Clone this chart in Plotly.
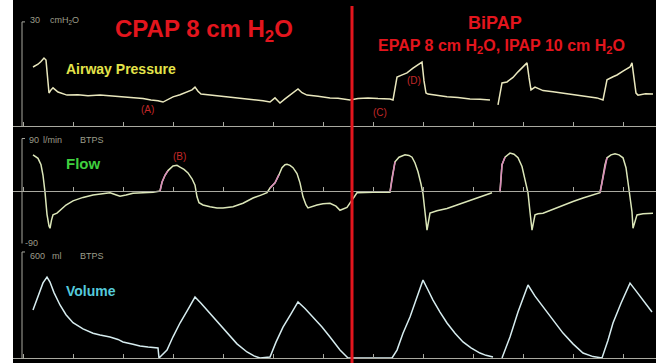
import plotly.graph_objects as go

# ---------------- data (time in s, physical units) ----------------
P_T = [0.20, 0.30, 0.36, 0.42, 0.46, 0.49, 0.52, 0.56, 0.60, 0.70,
       0.88, 1.10, 1.30, 1.54, 1.80, 2.00, 2.20, 2.40, 2.56, 2.70,
       2.80, 2.90, 3.00, 3.14, 3.28, 3.38, 3.44, 3.50, 3.56, 3.70,
       3.90, 4.20, 4.40, 4.64, 4.80, 4.94, 5.00, 5.04, 5.10, 5.14,
       5.24, 5.34, 5.44, 5.50, 5.58, 5.68, 5.90, 6.14, 6.30, 6.54,
       6.70, 6.90, 7.10, 7.34, 7.40, 7.44, 7.48, 7.56, 7.68, 7.80,
       7.94, 7.98, 8.02, 8.06, 8.10, 8.20, 8.48, 8.70, 8.94, 9.14,
       9.34, None, 9.50, 9.54, 9.58, 9.68, 9.80, 9.90, 10.08, 10.12,
       10.16, 10.24, 10.40, 10.60, 10.80, 11.00, 11.20, 11.48, 11.60, 11.64,
       11.68, 11.80, 11.88, 12.00, 12.14, 12.18, 12.22, 12.26, 12.30, 12.45,
       12.60]
P_V = [17.0, 17.8, 18.6, 19.6, 19.0, 14.5, 9.5, 10.4, 11.0, 9.8,
       8.9, 9.0, 8.7, 8.9, 8.6, 8.4, 8.1, 7.9, 7.5, 7.3,
       6.9, 7.6, 8.4, 9.0, 9.8, 10.4, 11.2, 10.0, 9.2, 9.0,
       8.6, 8.1, 8.0, 7.5, 7.3, 6.9, 7.6, 8.1, 7.2, 6.6,
       7.8, 8.9, 10.0, 10.7, 9.6, 8.9, 8.6, 8.1, 8.0, 7.5,
       7.9, 8.1, 7.9, 7.8, 7.5, 11.0, 14.1, 14.6, 15.3, 16.7,
       18.2, 18.4, 13.0, 9.5, 9.2, 9.0, 8.4, 8.2, 7.8, 7.7,
       7.5, None, 6.1, 9.0, 12.4, 12.7, 14.0, 15.6, 18.2, 14.0,
       10.4, 11.2, 10.2, 9.9, 9.5, 9.2, 8.8, 8.1, 7.5, 10.5,
       13.3, 14.2, 14.7, 15.8, 17.0, 18.2, 13.0, 9.5, 8.9, 9.3,
       9.2]

F_T = [0.20, 0.30, 0.36, 0.40, 0.44, 0.48, 0.52, 0.54, 0.57, 0.60,
       0.68, 0.74, 0.86, 1.00, 1.20, 1.40, 1.60, 1.74, 1.84, 1.94,
       2.06, 2.20, 2.40, 2.60, 2.74, 2.78, 2.84, 2.90, 3.00, 3.08,
       3.14, 3.22, 3.30, 3.38, 3.44, 3.48, 3.52, 3.60, 3.74, 3.88,
       4.00, 4.20, 4.40, 4.60, 4.76, 4.88, 4.94, 5.04, 5.12, 5.18,
       5.24, 5.28, 5.34, 5.40, 5.48, 5.54, 5.60, 5.66, 5.70, 5.80,
       5.88, 6.00, 6.14, 6.26, 6.34, 6.48, 6.58, 6.68, 7.00, 7.34,
       7.38, 7.44, 7.52, 7.64, 7.72, 7.78, 7.84, 7.90, 7.96, 8.00,
       8.04, 8.08, 8.14, 8.20, 8.28, 8.48, 8.68, 8.88, 9.08, 9.24,
       9.38, None, 9.54, 9.58, 9.64, 9.74, 9.82, 9.90, 9.98, 10.04,
       10.10, 10.14, 10.18, 10.24, 10.30, 10.40, 10.60, 10.80, 11.00, 11.20,
       11.40, 11.54, 11.58, 11.64, 11.68, 11.76, 11.84, 11.92, 12.00, 12.06,
       12.10, 12.14, 12.18, 12.20, 12.28, 12.40, 12.60]
F_V = [62, 56, 45, 27, -2, -40, -60, -64, -50, -41,
       -38, -33, -24, -17, -11, -7, -5, -3, -6, -9,
       -7, -4, -3, -2, 0, 15, 27, 35, 43, 44,
       41, 37, 31, 21, 10, -10, -20, -24, -27, -29,
       -29, -27, -21, -12, -7, -3, 5, 14, 28, 40,
       45, 46, 44, 40, 30, 14, -10, -24, -29, -26,
       -24, -22, -21, -26, -33, -28, -15, -3, -2, -2,
       22, 50, 58, 62, 61, 58, 48, 33, 12, -5,
       -36, -67, -38, -36, -34, -30, -24, -18, -12, -7,
       -3, None, -2, 45, 58, 65, 63, 57, 42, 22,
       -3, -36, -67, -41, -39, -38, -31, -24, -18, -12,
       -6, -3, 15, 45, 57, 62, 64, 62, 57, 40,
       15, -10, -36, -64, -41, -39, -38]
# inspiratory onset segments drawn in pink
PINK_WINDOWS = [(2.74, 2.90), (4.94, 5.12), (7.34, 7.44), (9.54, 9.64), (11.54, 11.68)]

V_T = [0.20, 0.30, 0.40, 0.48, 0.54, 0.62, 0.74, 0.86, 1.00, 1.20,
       1.40, 1.54, 1.74, 1.90, 2.00, 2.20, 2.34, 2.50, 2.70, 2.72,
       2.80, 2.88, 3.00, 3.14, 3.30, 3.44, 3.56, 3.68, 3.88, 4.08,
       4.28, 4.48, 4.62, 4.74, 4.94, 5.06, 5.20, 5.36, 5.50, 5.64,
       5.80, 5.98, 6.14, 6.26, 6.34, 6.50, 6.68, 7.00, 7.38, 7.48,
       7.60, 7.74, 7.88, 8.00, 8.10, 8.20, 8.34, 8.48, 8.64, 8.80,
       8.96, 9.14, 9.26, 9.40, None, 9.58, 9.74, 9.90, 10.00, 10.10,
       10.24, 10.40, 10.60, 10.80, 11.00, 11.20, 11.40, 11.58, 11.70, 11.80,
       11.96, 12.14, 12.26, 12.40, 12.58]
V_V = [272, 350, 425, 458, 430, 370, 300, 245, 200, 165,
       140, 130, 119, 105, 91, 78, 68, 62, 57, 0,
       20, 45, 120, 198, 275, 345, 310, 272, 205, 141,
       80, 34, 12, 0, 6, 90, 175, 250, 317, 280,
       232, 175, 119, 75, 45, 0, 0, 0, 0, 45,
       140, 232, 340, 441, 385, 328, 260, 198, 140, 91,
       57, 28, 15, 6, None, 0, 119, 260, 340, 413,
       350, 289, 212, 141, 80, 28, 8, 0, 100, 198,
       310, 424, 380, 328, 260]

SWITCH_TIME = 6.58  # CPAP -> BiPAP

# ---------------- layout helpers (pixel geometry) ----------------
W, H = 656, 363
L = 13
T0_PX, PX_PER_S = 23, 50


def fx(px):
    return (px - L) / (W - L)


def fy(py):
    return 1 - py / H


def t_of(px):
    return (px - T0_PX) / PX_PER_S


# panel: top px, bottom px, zero px, px per unit
PANELS = {
    "p": (0, 130, 126, 3.47),
    "f": (130, 247, 191, 0.583),
    "v": (247, 363, 358, 0.1767),
}

fig = go.Figure()

TRACE_W = 1.5
fig.add_trace(go.Scatter(x=P_T, y=P_V, mode="lines", xaxis="x", yaxis="y",
                         line=dict(color="#e9e7bd", width=TRACE_W), hoverinfo="skip"))
fig.add_trace(go.Scatter(x=F_T, y=F_V, mode="lines", xaxis="x2", yaxis="y2",
                         line=dict(color="#dbe6b8", width=TRACE_W), hoverinfo="skip"))
for a, b in PINK_WINDOWS:
    xs, ys = [], []
    for t, v in zip(F_T, F_V):
        if t is not None and a <= t <= b:
            xs.append(t)
            ys.append(v)
    fig.add_trace(go.Scatter(x=xs, y=ys, mode="lines", xaxis="x2", yaxis="y2",
                             line=dict(color="#d889b8", width=TRACE_W), hoverinfo="skip"))
fig.add_trace(go.Scatter(x=V_T, y=V_V, mode="lines", xaxis="x3", yaxis="y3",
                         line=dict(color="#d6ecef", width=TRACE_W), hoverinfo="skip"))

xrange = [t_of(L), t_of(W)]
axis_gray = "#a9a9a0"
xcommon = dict(range=xrange, showgrid=False, zeroline=False, showticklabels=False,
               showline=True, linecolor=axis_gray, linewidth=1, ticks="inside",
               ticklen=4, tickcolor=axis_gray, tick0=0, dtick=1, anchor="free")
layout_axes = {}
for i, key in enumerate(["p", "f", "v"]):
    top, bot, zero, ppu = PANELS[key]
    suffix = "" if i == 0 else str(i + 1)
    xa = dict(xcommon, position=fy(zero))
    if i > 0:
        xa["matches"] = "x"
    layout_axes["xaxis" + suffix] = xa
    layout_axes["yaxis" + suffix] = dict(
        domain=[fy(bot), fy(top)],
        range=[(zero - bot) / ppu, (zero - top) / ppu],
        showgrid=False, zeroline=False, showticklabels=False, showline=False,
        anchor="free", position=0,
    )

fig.update_layout(
    width=W, height=H,
    margin=dict(l=L, r=0, t=0, b=0),
    paper_bgcolor="white", plot_bgcolor="black",
    showlegend=False,
    **layout_axes,
)

# left vertical scale lines
shapes = []
scale_x = t_of(22)
for yref, y0, y1 in [("y", 0, 30), ("y2", -90, 90), ("y3", 0, 600)]:
    shapes.append(dict(type="line", xref="x", yref=yref, x0=scale_x, x1=scale_x,
                       y0=y0, y1=y1, line=dict(color=axis_gray, width=1)))
    shapes.append(dict(type="line", xref="x", yref=yref, x0=scale_x, x1=t_of(25),
                       y0=y1, y1=y1, line=dict(color=axis_gray, width=1)))
# CPAP / BiPAP separator
shapes.append(dict(type="line", xref="x", yref="paper", x0=SWITCH_TIME, x1=SWITCH_TIME,
                   y0=0, y1=fy(6), line=dict(color="#e3151d", width=3)))
fig.update_layout(shapes=shapes)

FONT = "Liberation Sans, Arial, sans-serif"


def ann(text, px, py, size, color, xanchor="center", bold=True):
    fig.add_annotation(x=fx(px), y=fy(py), xref="paper", yref="paper",
                       text=f"<b>{text}</b>" if bold else text, showarrow=False,
                       xanchor=xanchor, yanchor="middle",
                       font=dict(family=FONT, size=size, color=color))


RED = "#e3151d"
ann("CPAP 8 cm H<sub>2</sub>O", 204, 31, 24, RED)
ann("BiPAP", 495, 23, 18, RED)
ann("EPAP 8 cm H<sub>2</sub>O, IPAP 10 cm H<sub>2</sub>O", 501, 47, 16, RED)

ann("Airway Pressure", 64, 69, 14, "#e4e44a", xanchor="left")
ann("Flow", 64, 163, 15, "#3fcf3f", xanchor="left")
ann("Volume", 64, 291, 14, "#55cbdc", xanchor="left")

ANN_RED = "#c42828"
ann("(A)", 147, 110, 10, ANN_RED, bold=False)
ann("(B)", 179, 156, 10, ANN_RED, bold=False)
ann("(C)", 380, 112, 10, ANN_RED, bold=False)
ann("(D)", 414, 80, 10, ANN_RED, bold=False)

GRAY = "#9d9d8a"
ann("30", 28, 20, 9, GRAY, xanchor="left", bold=False)
ann("cmH<sub>2</sub>O", 48, 20, 9, GRAY, xanchor="left", bold=False)
ann("90", 27, 140, 9, GRAY, xanchor="left", bold=False)
ann("l/min", 41, 140, 9, GRAY, xanchor="left", bold=False)
ann("BTPS", 78, 140, 9, GRAY, xanchor="left", bold=False)
ann("-90", 23, 243, 9, GRAY, xanchor="left", bold=False)
ann("600", 28, 256, 9, GRAY, xanchor="left", bold=False)
ann("ml", 50, 256, 9, GRAY, xanchor="left", bold=False)
ann("BTPS", 78, 256, 9, GRAY, xanchor="left", bold=False)

fig.write_html("out.html",
               config={"displayModeBar": False},
               post_script="document.body.style.margin='0';document.body.style.overflow='hidden';")
